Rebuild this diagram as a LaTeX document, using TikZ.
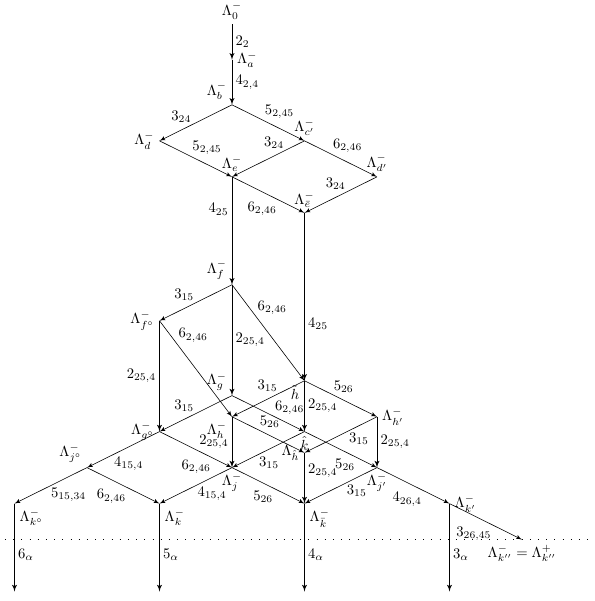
\documentclass[tikz,border=0pt]{standalone}
\usepackage{amsmath}
\usepackage{amssymb}
\usepackage{tikz}
\usetikzlibrary{arrows,positioning}

\begin{document}
\begin{tikzpicture}[auto, on grid, node distance=0.864cm and 1.74cm, >=latex']

% Define styles
\tikzstyle{point} = [coordinate]
\tikzstyle{vert} = [->, semithick, every node/.style={inner sep=2.2pt}]
\tikzstyle{diag} = [->, thin, every node/.style={inner sep=1pt}]
\tikzstyle{level} = [thin, dash pattern=on 0.4pt off 5.2pt]

\useasboundingbox (-5.568,0.26) rectangle (8.688,-14.164);

% Nodes
\node (l0) at (0,0) {$\Lambda^-_0$};
\node [point, below=1.176cm of l0, label={right:$\Lambda^-_a$}] (la) {};
\node [point, below=1.08cm of la, label={above left:$\Lambda^-_b$}] (lb) {};
\node [point, below left=of lb, label={left:$\Lambda^-_d$}] (ld) {};
\node [point, below right=of lb, label={above:$\Lambda^-_{c'}$}] (lcp) {};
\node [point, below right=of ld, label={above:$\Lambda^-_e$}] (le) {};
\node [point, below right=of lcp, label={above:$\Lambda^-_{d'}$}] (ldp) {};
\node [point, below right=of le, label={above:$\Lambda^-_{\bar e}$}] (leb) {};
\node [point, below=2.59cm of le, label={above left:$\Lambda^-_f$}] (lf) {};
\node [point, below left=of lf, label={left:$\Lambda^-_{f^\circ}$}] (lfo) {};
\node [point, below=2.66cm of lf, label={above left:$\Lambda^-_g$}] (lg) {};
\node [point, below=4.03cm of leb, label={below left:$\tilde h$}] (lht) {};
\node [point, below left=of lg, label={left:$\Lambda^-_{g^\circ}$}] (lgo) {};
\node [point, below left=of lht, label={below left:$\Lambda^-_h$}] (lh) {};
\node [point, below right=of lht, label={right:$\Lambda^-_{h'}$}] (lhp) {};
\node [point, below right=of lg, label={below:$\hat k$}] (lkh) {};
\node [point, below right=of lh, label={left:$\Lambda_{\hat h}$}] (lhh) {};
\node [point, below left=of lkh, label={below:$\Lambda^-_j$}] (lj) {};
\node [point, below right=of lkh, label={below:$\Lambda^-_{j'}$}] (ljp) {};
\node [point, below left=of lgo, label={above left:$\Lambda^-_{j^\circ}$}] (ljo) {};
\node [point, below left=of ljo, label={below right:$\Lambda^-_{k^\circ}$}] (lko) {};
\node [point, below right=of ljo, label={below right:$\Lambda^-_k$}] (lk) {};
\node [point, below right=of lj, label={below right:$\Lambda^-_{\bar k}$}] (lkb) {};
\node [point, below right=of ljp, label={right:$\Lambda^-_{k'}$}] (lkp) {};
\node [point, below right=of lkp, label={below:$\Lambda^-_{k''}=\Lambda^+_{k''}$}] (lkpp) {};

% free ends
\node [point, below=2.11cm of lko] (eko) {};
\node [point, below=2.11cm of lk] (ek) {};
\node [point, below=2.11cm of lkb] (ekb) {};
\node [point, below=2.11cm of lkp] (ekp) {};
\coordinate (wl) at (-5.45,0);
\coordinate (wr) at (8.688,0);

% Connections
\draw [vert] (l0) -- node {$2_2$} (la);
\draw [vert] (la) -- node {$4_{2,4}$} (lb);
\draw [diag] (lb) -- node [swap, pos=0.54] {$3_{24}$} (ld);
\draw [diag] (lb) -- node [pos=0.43] {$5_{2,45}$} (lcp);
\draw [diag] (ld) -- node [pos=0.43] {$5_{2,45}$} (le);
\draw [diag] (lcp) -- node [swap, pos=0.26] {$3_{24}$} (le);
\draw [diag] (lcp) -- node [pos=0.37] {$6_{2,46}$} (ldp);
\draw [diag] (le) -- node [swap, pos=0.64] {$6_{2,46}$} (leb);
\draw [diag] (ldp) -- node [swap, pos=0.41] {$3_{24}$} (leb);
\draw [vert] (le) -- node [swap, pos=0.3] {$4_{25}$} (lf);
\draw [vert] (leb) -- node [pos=0.66] {$4_{25}$} (lht);
\draw [diag] (lf) -- node [swap] {$3_{15}$} (lfo);
\draw [vert] (lf) -- node {$2_{25,4}$} (lg);
\draw [diag] (lf) -- node [pos=0.33] {$6_{2,46}$} (lht);
\draw [vert] (lfo) -- node [swap] {$2_{25,4}$} (lgo);
\draw [diag] (lfo) -- node [pos=0.24] {$6_{2,46}$} (lh);
\draw [diag] (lg) -- node [swap] {$3_{15}$} (lgo);
\draw [diag] (lg) -- node [pos=0.57] {$6_{2,46}$} (lkh);
\draw [diag] (lht) -- node [swap, pos=0.35] {$3_{15}$} (lh);
\draw [diag] (lht) -- node [pos=0.38] {$5_{26}$} (lhp);
\draw [vert] (lht) -- node {$2_{25,4}$} (lkh);
\draw [diag] (lh) -- node [pos=0.36] {$5_{26}$} (lhh);
\draw [vert] (lh) -- node [swap] {$2_{25,4}$} (lj);
\draw [diag] (lhp) -- node [pos=0.41] {$3_{15}$} (lhh);
\draw [vert] (lhp) -- node {$2_{25,4}$} (ljp);
\draw [diag] (lkh) -- node [pos=0.65] {$3_{15}$} (lj);
\draw [diag] (lkh) -- node [swap, pos=0.72] {$5_{26}$} (ljp);
\draw [vert] (lhh) -- node [pos=0.36] {$2_{25,4}$} (lkb);
\draw [diag] (lgo) -- node [pos=0.65] {$4_{15,4}$} (ljo);
\draw [diag] (lgo) -- node [swap, pos=0.73] {$6_{2,46}$} (lj);
\draw [diag] (ljo) -- node [pos=0.52] {$5_{15,34}$} (lko);
\draw [diag] (ljo) -- node [swap, pos=0.56] {$6_{2,46}$} (lk);
\draw [diag] (lj) -- node {$4_{15,4}$} (lk);
\draw [diag] (lj) -- node [swap, pos=0.59] {$5_{26}$} (lkb);
\draw [diag] (ljp) -- node [pos=0.44] {$3_{15}$} (lkb);
\draw [diag] (ljp) -- node [swap, pos=0.64] {$4_{26,4}$} (lkp);
\draw [diag] (lkp) -- node [swap, pos=0.6] {$3_{26,45}$} (lkpp);
\draw [level] (wl |- lkpp) -- (wr |- lkpp);
\draw [vert] (lko) -- node [pos=0.58] {$6_\alpha$} (eko);
\draw [vert] (lk) -- node [pos=0.58] {$5_\alpha$} (ek);
\draw [vert] (lkb) -- node [pos=0.58] {$4_\alpha$} (ekb);
\draw [vert] (lkp) -- node [pos=0.58] {$3_\alpha$} (ekp);

\end{tikzpicture}
\end{document}
